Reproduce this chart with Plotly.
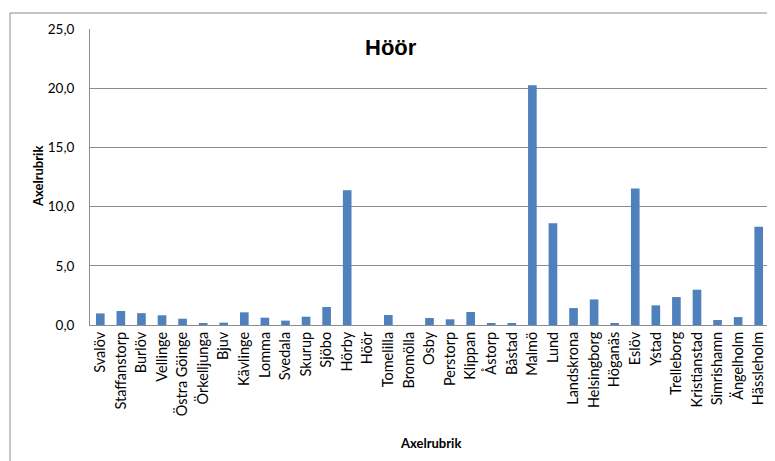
import plotly.graph_objects as go

KOMMUNER = [
    "Svalöv", "Staffanstorp", "Burlöv", "Vellinge", "Östra Göinge", "Örkelljunga",
    "Bjuv", "Kävlinge", "Lomma", "Svedala", "Skurup", "Sjöbo", "Hörby", "Höör",
    "Tomelilla", "Bromölla", "Osby", "Perstorp", "Klippan", "Åstorp", "Båstad",
    "Malmö", "Lund", "Landskrona", "Helsingborg", "Höganäs", "Eslöv", "Ystad",
    "Trelleborg", "Kristianstad", "Simrishamn", "Ängelholm", "Hässleholm",
]
VARDEN = [
    0.98, 1.18, 1.0, 0.82, 0.53, 0.14,
    0.2, 1.07, 0.62, 0.37, 0.70, 1.52, 11.38, 0.0,
    0.84, 0.0, 0.59, 0.48, 1.1, 0.17, 0.17,
    20.24, 8.6, 1.43, 2.16, 0.17, 11.52, 1.66,
    2.36, 2.98, 0.42, 0.67, 8.29,
]

FONT = "Lato, 'Open Sans', sans-serif"
PW, PH = 679, 296  # plot area size in px

fig = go.Figure(
    go.Bar(
        x=KOMMUNER,
        y=VARDEN,
        marker={"color": "#4F81BD", "line": {"width": 0}},
    )
)

fig.update_layout(
    width=767,
    height=453,
    margin={"l": 82, "r": 6, "t": 21, "b": 136},
    paper_bgcolor="white",
    plot_bgcolor="white",
    separators=", ",
    bargap=0.58,
    showlegend=False,
    font={"family": FONT, "size": 13, "color": "black"},
    shapes=[
        # chart border, cut off on the right and bottom as in the original
        {
            "type": "rect", "xref": "paper", "yref": "paper",
            "x0": -80 / PW, "x1": 1.05, "y0": -140 / PH, "y1": 1 + 16 / PH,
            "line": {"color": "#8c8c8c", "width": 1}, "fillcolor": "rgba(0,0,0,0)",
            "layer": "below",
        }
    ],
    annotations=[
        {
            "text": "<b>Höör</b>", "xref": "paper", "yref": "paper",
            "x": (391 - 90) / PW, "y": 1 - (48 - 29) / PH,
            "xanchor": "center", "yanchor": "middle",
            "showarrow": False, "font": {"family": "Arial, 'Liberation Sans'", "size": 22},
        },
        {
            "text": "<b>Axelrubrik</b>", "xref": "paper", "yref": "paper",
            "x": (430 - 90) / PW, "y": -(443 - 325) / PH,
            "xanchor": "center", "yanchor": "middle",
            "showarrow": False, "font": {"family": FONT, "size": 13},
        },
        {
            "text": "<b>Axelrubrik</b>", "xref": "paper", "yref": "paper",
            "x": -(90 - 38) / PW, "y": 1 - (176 - 29) / PH, "textangle": -90,
            "xanchor": "center", "yanchor": "middle",
            "showarrow": False, "font": {"family": FONT, "size": 13},
        },
    ],
)

fig.update_xaxes(
    tickangle=-90,
    showline=True,
    linecolor="#8c8c8c",
    linewidth=1,
    ticks="",
    tickfont={"size": 14.5},
)
fig.update_yaxes(
    range=[0, 25],
    dtick=5,
    tickformat=".1f",
    showgrid=True,
    gridcolor="#8c8c8c",
    gridwidth=1,
    showline=True,
    linecolor="#8c8c8c",
    zeroline=False,
    ticks="",
    ticklabelstandoff=12,
    tickfont={"size": 13.5},
)

fig.write_html("out.html")
